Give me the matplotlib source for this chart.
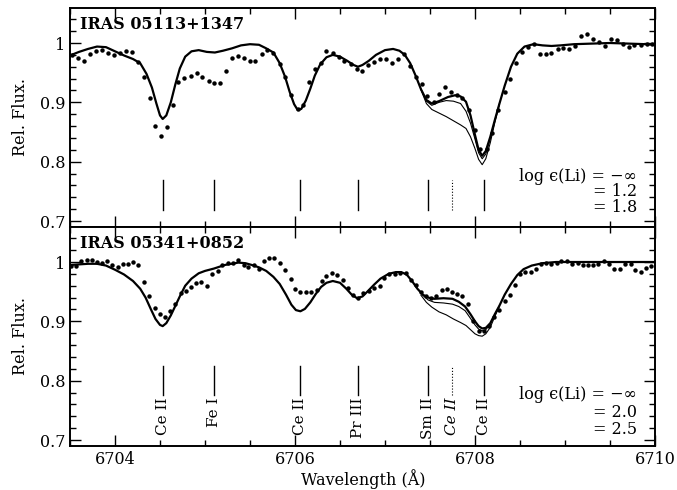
import numpy as np
import matplotlib
matplotlib.use('Agg')
import matplotlib.pyplot as plt
from matplotlib.ticker import MultipleLocator

plt.rcParams['font.family'] = ['DejaVu Serif']
plt.rcParams['font.size'] = 11.5

####观测光谱 IRAS 05113+1347
obs1_wl = [6703.52, 6703.59, 6703.66, 6703.72, 6703.79, 6703.85, 6703.92, 6703.99, 6704.05, 6704.12,
           6704.19, 6704.25, 6704.32, 6704.39, 6704.44, 6704.51, 6704.58, 6704.64, 6704.70, 6704.77,
           6704.84, 6704.91, 6704.97, 6705.04, 6705.10, 6705.17, 6705.23, 6705.30, 6705.37, 6705.43,
           6705.50, 6705.56, 6705.63, 6705.69, 6705.76, 6705.83, 6705.89, 6705.96, 6706.03, 6706.09,
           6706.16, 6706.22, 6706.29, 6706.35, 6706.42, 6706.49, 6706.55, 6706.62, 6706.69, 6706.75,
           6706.81, 6706.88, 6706.94, 6707.01, 6707.08, 6707.14, 6707.21, 6707.28, 6707.34, 6707.41,
           6707.47, 6707.54, 6707.60, 6707.67, 6707.73, 6707.80, 6707.86, 6707.93, 6708.00, 6708.06,
           6708.13, 6708.19, 6708.26, 6708.33, 6708.39, 6708.46, 6708.52, 6708.59, 6708.66, 6708.72,
           6708.79, 6708.85, 6708.92, 6708.98, 6709.05, 6709.11, 6709.18, 6709.24, 6709.31, 6709.38,
           6709.44, 6709.51, 6709.58, 6709.64, 6709.71, 6709.77, 6709.84, 6709.91, 6709.97]
obs1_fl = [0.979, 0.974, 0.970, 0.982, 0.987, 0.988, 0.984, 0.979, 0.984, 0.987,
           0.985, 0.968, 0.942, 0.908, 0.861, 0.843, 0.858, 0.895, 0.934, 0.941,
           0.944, 0.950, 0.942, 0.936, 0.933, 0.933, 0.953, 0.975, 0.978, 0.974,
           0.969, 0.970, 0.982, 0.989, 0.984, 0.964, 0.942, 0.913, 0.889, 0.896,
           0.934, 0.957, 0.967, 0.987, 0.984, 0.977, 0.969, 0.964, 0.956, 0.952,
           0.963, 0.968, 0.973, 0.973, 0.966, 0.973, 0.982, 0.961, 0.943, 0.931,
           0.911, 0.900, 0.914, 0.926, 0.917, 0.913, 0.907, 0.887, 0.854, 0.822,
           0.822, 0.848, 0.887, 0.918, 0.939, 0.966, 0.985, 0.994, 0.998, 0.982,
           0.981, 0.983, 0.990, 0.991, 0.990, 0.995, 1.011, 1.015, 1.007, 1.001,
           0.995, 1.007, 1.005, 0.999, 0.994, 0.997, 0.997, 0.998, 0.999]

####合成谱 (无Li)
syn1_wl = [6703.50, 6703.60, 6703.70, 6703.80, 6703.90, 6704.00, 6704.10, 6704.20, 6704.28, 6704.35,
           6704.41, 6704.46, 6704.50, 6704.53, 6704.57, 6704.62, 6704.67, 6704.72, 6704.78, 6704.85,
           6704.93, 6705.02, 6705.11, 6705.20, 6705.30, 6705.40, 6705.50, 6705.60, 6705.68, 6705.76,
           6705.83, 6705.89, 6705.94, 6705.99, 6706.03, 6706.07, 6706.12, 6706.17, 6706.22, 6706.28,
           6706.35, 6706.42, 6706.50, 6706.58, 6706.65, 6706.70, 6706.75, 6706.82, 6706.90, 6707.00,
           6707.09, 6707.16, 6707.22, 6707.28, 6707.34, 6707.40, 6707.46, 6707.52, 6707.60, 6707.70,
           6707.78, 6707.84, 6707.90, 6707.95, 6708.00, 6708.04, 6708.08, 6708.12, 6708.17, 6708.22,
           6708.27, 6708.33, 6708.40, 6708.47, 6708.55, 6708.65, 6708.75, 6708.85, 6708.95, 6709.10,
           6709.30, 6709.50, 6709.70, 6709.90, 6710.00]
syn1_fl = [0.979, 0.985, 0.990, 0.994, 0.993, 0.986, 0.979, 0.973, 0.966, 0.948,
           0.925, 0.898, 0.878, 0.872, 0.878, 0.900, 0.930, 0.957, 0.977, 0.986,
           0.988, 0.985, 0.984, 0.987, 0.991, 0.996, 0.998, 0.997, 0.991, 0.984,
           0.966, 0.943, 0.918, 0.897, 0.887, 0.889, 0.903, 0.923, 0.945, 0.964,
           0.976, 0.980, 0.977, 0.970, 0.963, 0.960, 0.963, 0.970, 0.980, 0.988,
           0.990, 0.987, 0.980, 0.966, 0.945, 0.922, 0.904, 0.898, 0.902, 0.909,
           0.912, 0.910, 0.901, 0.878, 0.845, 0.820, 0.810, 0.818, 0.842, 0.870,
           0.897, 0.928, 0.960, 0.982, 0.994, 0.998, 0.996, 0.995, 0.996, 0.998,
           0.999, 1.000, 0.999, 0.998, 0.997]
li1_wl = [6707.40, 6707.46, 6707.52, 6707.60, 6707.68, 6707.76, 6707.84, 6707.90, 6707.95, 6708.00,
          6708.04, 6708.08, 6708.12, 6708.17, 6708.22, 6708.27]
li1a_fl = [0.922, 0.902, 0.895, 0.900, 0.903, 0.902, 0.898, 0.885, 0.865, 0.838,
           0.815, 0.805, 0.813, 0.839, 0.869, 0.897]
li1b_fl = [0.921, 0.898, 0.888, 0.882, 0.876, 0.869, 0.862, 0.856, 0.842, 0.822,
           0.804, 0.795, 0.805, 0.832, 0.866, 0.896]

####观测光谱 IRAS 05341+0852
obs2_wl = [6703.51, 6703.57, 6703.62, 6703.69, 6703.74, 6703.80, 6703.85, 6703.91, 6703.97, 6704.03,
           6704.09, 6704.14, 6704.20, 6704.26, 6704.32, 6704.38, 6704.44, 6704.50, 6704.56, 6704.61,
           6704.67, 6704.73, 6704.79, 6704.84, 6704.90, 6704.96, 6705.02, 6705.08, 6705.14, 6705.19,
           6705.25, 6705.31, 6705.37, 6705.43, 6705.48, 6705.54, 6705.60, 6705.66, 6705.71, 6705.77,
           6705.83, 6705.89, 6705.95, 6706.00, 6706.06, 6706.12, 6706.18, 6706.24, 6706.30, 6706.35,
           6706.41, 6706.47, 6706.53, 6706.59, 6706.64, 6706.70, 6706.76, 6706.82, 6706.88, 6706.94,
           6706.99, 6707.05, 6707.11, 6707.17, 6707.23, 6707.29, 6707.34, 6707.40, 6707.46, 6707.51,
           6707.57, 6707.63, 6707.69, 6707.75, 6707.80, 6707.86, 6707.92, 6707.98, 6708.04, 6708.10,
           6708.16, 6708.21, 6708.27, 6708.33, 6708.39, 6708.44, 6708.50, 6708.56, 6708.62, 6708.68,
           6708.73, 6708.79, 6708.85, 6708.91, 6708.96, 6709.02, 6709.08, 6709.14, 6709.20, 6709.26,
           6709.31, 6709.37, 6709.43, 6709.49, 6709.55, 6709.61, 6709.67, 6709.73, 6709.78, 6709.84,
           6709.90, 6709.96]
obs2_fl = [0.994, 0.994, 1.002, 1.003, 1.003, 1.000, 0.998, 1.002, 0.995, 0.991,
           0.996, 0.997, 1.000, 0.995, 0.967, 0.943, 0.922, 0.912, 0.907, 0.917,
           0.930, 0.947, 0.951, 0.958, 0.964, 0.967, 0.960, 0.979, 0.985, 0.995,
           0.998, 0.999, 1.003, 0.995, 0.991, 0.995, 0.989, 1.001, 1.006, 1.006,
           0.999, 0.987, 0.971, 0.954, 0.950, 0.950, 0.950, 0.953, 0.968, 0.977,
           0.981, 0.978, 0.970, 0.956, 0.944, 0.940, 0.947, 0.951, 0.956, 0.959,
           0.973, 0.979, 0.980, 0.981, 0.981, 0.970, 0.961, 0.950, 0.943, 0.940,
           0.942, 0.952, 0.954, 0.950, 0.946, 0.943, 0.930, 0.901, 0.884, 0.884,
           0.893, 0.908, 0.919, 0.935, 0.944, 0.961, 0.980, 0.983, 0.984, 0.988,
           0.997, 0.999, 0.997, 0.998, 1.001, 1.002, 0.997, 0.998, 0.995, 0.995,
           0.995, 0.996, 1.001, 0.997, 0.989, 0.989, 0.997, 0.997, 0.987, 0.984,
           0.990, 0.993]

syn2_wl = [6703.50, 6703.60, 6703.70, 6703.80, 6703.90, 6704.00, 6704.10, 6704.20, 6704.28, 6704.34,
           6704.40, 6704.45, 6704.50, 6704.53, 6704.57, 6704.62, 6704.67, 6704.72, 6704.78, 6704.85,
           6704.93, 6705.00, 6705.10, 6705.22, 6705.37, 6705.45, 6705.52, 6705.60, 6705.68, 6705.76,
           6705.83, 6705.90, 6705.96, 6706.01, 6706.06, 6706.11, 6706.17, 6706.23, 6706.29, 6706.35,
           6706.42, 6706.50, 6706.57, 6706.63, 6706.69, 6706.75, 6706.81, 6706.88, 6706.95, 6707.04,
           6707.12, 6707.18, 6707.24, 6707.30, 6707.36, 6707.42, 6707.48, 6707.55, 6707.65, 6707.75,
           6707.82, 6707.89, 6707.95, 6708.00, 6708.04, 6708.08, 6708.12, 6708.17, 6708.22, 6708.27,
           6708.33, 6708.40, 6708.47, 6708.54, 6708.63, 6708.75, 6708.90, 6709.20, 6709.50, 6709.80,
           6710.00]
syn2_fl = [0.995, 0.996, 0.997, 0.997, 0.994, 0.987, 0.979, 0.968, 0.955, 0.940,
           0.920, 0.904, 0.894, 0.892, 0.897, 0.910, 0.926, 0.942, 0.960, 0.972,
           0.981, 0.985, 0.989, 0.995, 0.999, 0.998, 0.995, 0.991, 0.985, 0.975,
           0.963, 0.945, 0.928, 0.919, 0.917, 0.921, 0.932, 0.946, 0.958, 0.965,
           0.968, 0.965, 0.955, 0.945, 0.939, 0.942, 0.951, 0.962, 0.972, 0.980,
           0.983, 0.983, 0.979, 0.968, 0.955, 0.945, 0.940, 0.938, 0.939, 0.938,
           0.933, 0.925, 0.912, 0.900, 0.892, 0.888, 0.889, 0.897, 0.912, 0.926,
           0.945, 0.963, 0.978, 0.988, 0.994, 0.998, 1.000, 1.000, 1.000, 1.000,
           1.000]
li2a_wl = [6707.42, 6707.48, 6707.55, 6707.65, 6707.75, 6707.82, 6707.89, 6707.95, 6708.00, 6708.04,
           6708.08, 6708.12, 6708.17, 6708.22, 6708.27]
li2a_fl = [0.944, 0.936, 0.932, 0.931, 0.929, 0.925, 0.918, 0.905, 0.894, 0.887,
           0.884, 0.886, 0.895, 0.911, 0.926]
li2b_wl = [6707.40, 6707.46, 6707.52, 6707.60, 6707.68, 6707.76, 6707.84, 6707.90, 6707.95, 6708.00,
           6708.04, 6708.08, 6708.12, 6708.17, 6708.22, 6708.27]
li2b_fl = [0.944, 0.932, 0.924, 0.916, 0.911, 0.904, 0.898, 0.893, 0.886, 0.879,
           0.876, 0.875, 0.879, 0.890, 0.908, 0.925]

####谱线标记
line_wl = [6704.53, 6705.10, 6706.05, 6706.70, 6707.48, 6707.74, 6708.10]
line_id = ['Ce II', 'Fe I', 'Ce II', 'Pr III', 'Sm II', 'Ce II', 'Ce II']
line_dotted = [False, False, False, False, False, True, False]

names = ['IRAS 05113+1347', 'IRAS 05341+0852']
li_text = [['log ϵ(Li) = −∞', '= 1.2', '= 1.8'], ['log ϵ(Li) = −∞', '= 2.0', '= 2.5']]

fig, axes = plt.subplots(2, 1, figsize=(6.77, 4.90), dpi=100, sharex=True)
fig.subplots_adjust(left=0.1034, right=0.9675, top=0.9837, bottom=0.0898, hspace=0)

obs = [(obs1_wl, obs1_fl), (obs2_wl, obs2_fl)]
syn = [(syn1_wl, syn1_fl), (syn2_wl, syn2_fl)]
thin = [[(li1_wl, li1a_fl), (li1_wl, li1b_fl)], [(li2a_wl, li2a_fl), (li2b_wl, li2b_fl)]]

for k, ax in enumerate(axes):
    ax.plot(syn[k][0], syn[k][1], color='black', lw=1.6, zorder=3)
    for w, f in thin[k]:
        ax.plot(w, f, color='black', lw=0.8, zorder=3)
    ax.plot(obs[k][0], obs[k][1], 'o', color='black', ms=3.2, mec='none', zorder=4)
    ax.set_xlim(6703.5, 6710)
    ax.set_ylim(0.69, 1.059)
    ax.yaxis.set_major_locator(MultipleLocator(0.1))
    ax.yaxis.set_minor_locator(MultipleLocator(0.02))
    ax.xaxis.set_major_locator(MultipleLocator(2))
    ax.xaxis.set_minor_locator(MultipleLocator(0.5))
    ax.set_yticks([0.7, 0.8, 0.9, 1.0])
    ax.set_yticklabels(['0.7', '0.8', '0.9', '1'])
    ax.tick_params(which='both', direction='in', top=True, right=True, width=1.0)
    ax.tick_params(which='major', length=8, labelsize=11.5)
    ax.tick_params(which='minor', length=4)
    for s in ax.spines.values():
        s.set_linewidth(1.4)
    ax.set_ylabel('Rel. Flux.', fontsize=11.5, labelpad=8)
    ax.text(0.017, 0.925, names[k], transform=ax.transAxes, fontweight='bold',
            fontsize=11.5, ha='left', va='center')
    for j, s in enumerate(li_text[k]):
        ax.text(6709.80, [0.775, 0.749, 0.723][j] if k == 0 else [0.777, 0.747, 0.717][j], s,
                ha='right', va='center', fontsize=11.5)
    for w, lab, dot in zip(line_wl, line_id, line_dotted):
        ls = ':' if dot else '-'
        lw = 0.8 if dot else 1.0
        if k == 0:
            ax.plot([w, w], [0.719, 0.770], color='black', lw=lw, ls=ls)
        else:
            ax.plot([w, w], [0.776, 0.825], color='black', lw=lw, ls=ls)
            ax.text(w, 0.772, lab, rotation=90, ha='center', va='top', fontsize=11,
                    style='italic' if dot else 'normal')

axes[0].tick_params(labelbottom=False)
axes[1].set_xticks([6704, 6706, 6708, 6710])
axes[1].set_xticklabels(['6704', '6706', '6708', '6710'])
fig.text(0.536, 0.003, 'Wavelength (Å)', ha='center', va='bottom', fontsize=11.5)

plt.savefig('out.png', dpi=100)
